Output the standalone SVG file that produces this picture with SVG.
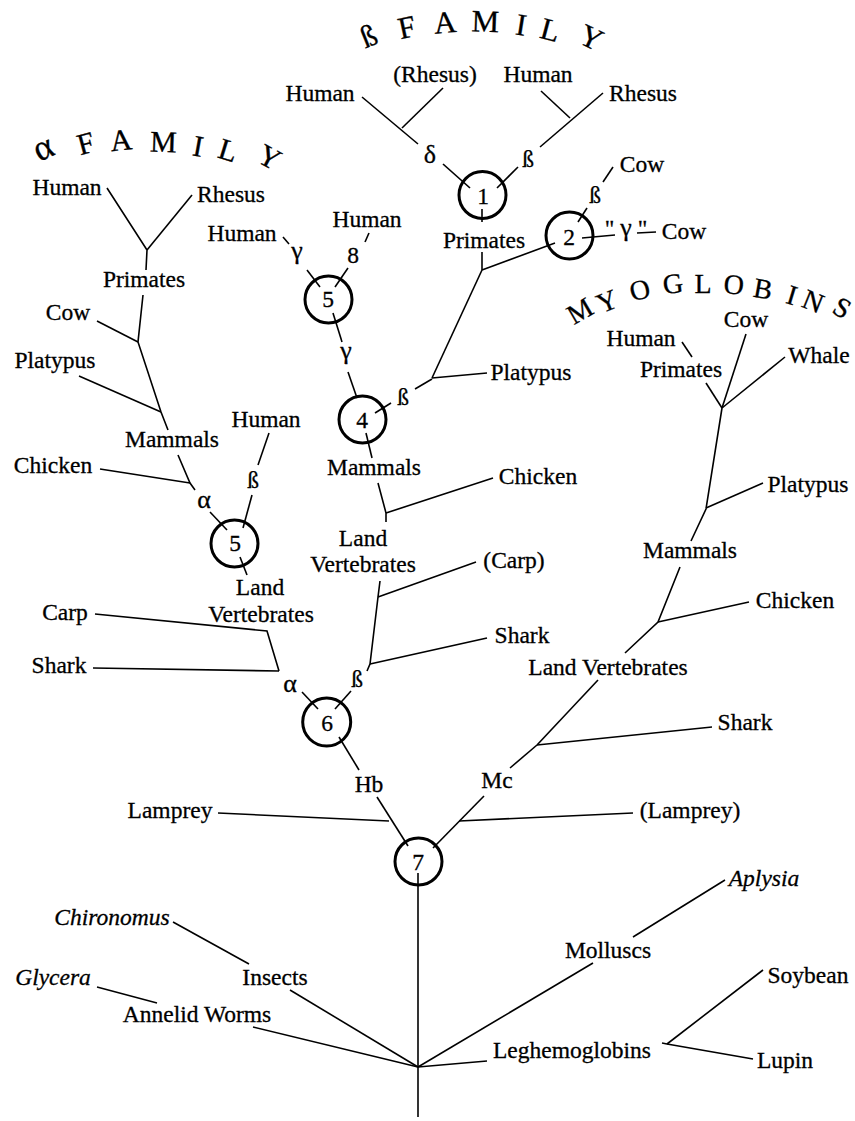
<svg xmlns="http://www.w3.org/2000/svg" width="855" height="1121" viewBox="0 0 855 1121">
  <style>
    text { font-family: "Liberation Serif", "Times New Roman", serif; font-size: 23.5px; fill: #000; stroke: #000; stroke-width: 0.3; text-anchor: middle; }
    .it { font-style: italic; }
    .title { font-size: 31px; }
    .title-a { font-size: 30px; }
    .title2 { font-size: 28px; }
    .gk { font-size: 26px; }
    .br { fill: none; stroke: #000; stroke-width: 1.6; stroke-linecap: butt; stroke-linejoin: miter; }
    .dup { fill: none; stroke: #000; stroke-width: 3; }
  </style>
  <rect width="855" height="1121" fill="#fff"/>

  <!-- group headings set along arcs -->
  <g id="title-beta">
    <text class="title" transform="translate(372.5,45.5) rotate(-22)">ß</text>
    <text class="title" transform="translate(409,37.5) rotate(-12)">F</text>
    <text class="title" transform="translate(446,32.7) rotate(-5)">A</text>
    <text class="title" transform="translate(485,31.7) rotate(2)">M</text>
    <text class="title" transform="translate(519.5,35) rotate(9)">I</text>
    <text class="title" transform="translate(547.6,40) rotate(15)">L</text>
    <text class="title" transform="translate(587,47) rotate(25)">Y</text>
  </g>
  <g id="title-alpha">
    <text class="title-a" style="font-size:36px" transform="translate(47.7,158) rotate(-25)">α</text>
    <text class="title-a" transform="translate(88.4,153) rotate(-15)">F</text>
    <text class="title-a" transform="translate(122,150) rotate(-6)">A</text>
    <text class="title-a" transform="translate(163,152) rotate(2)">M</text>
    <text class="title-a" transform="translate(196.4,156) rotate(10)">I</text>
    <text class="title-a" transform="translate(225.3,160) rotate(17)">L</text>
    <text class="title-a" transform="translate(264.7,166) rotate(28)">Y</text>
  </g>
  <g id="title-myo">
    <text class="title2" transform="translate(584.5,319) rotate(-30)">M</text>
    <text class="title2" transform="translate(610.5,310) rotate(-22)">Y</text>
    <text class="title2" transform="translate(642,299) rotate(-14)">O</text>
    <text class="title2" transform="translate(674,293) rotate(-7)">G</text>
    <text class="title2" transform="translate(703,293) rotate(0)">L</text>
    <text class="title2" transform="translate(733,294) rotate(5)">O</text>
    <text class="title2" transform="translate(761.4,298) rotate(10)">B</text>
    <text class="title2" transform="translate(789.3,304) rotate(17)">I</text>
    <text class="title2" transform="translate(809.6,310) rotate(22)">N</text>
    <text class="title2" transform="translate(837.5,316) rotate(30)">S</text>
  </g>

  <!-- branches -->
  <g id="connectors" class="br">
    <!-- beta family -->
    <path d="M362,97 L418,144"/>
    <path d="M402,128 L443,88"/>
    <path d="M443,164 L470,188"/>
    <path d="M497,188 L518,167"/>
    <path d="M540,147 L603,93"/>
    <path d="M570,118 L541,91"/>
    <path d="M482,209 L482,222"/>
    <path d="M482,252 L482,270"/>
    <path d="M482,270 L555,243"/>
    <path d="M482,270 L432,378"/>
    <path d="M432,378 L487,373"/>
    <path d="M578,222 L587,208"/>
    <path d="M603,182 L613,167"/>
    <path d="M582,238 L615,235"/>
    <path d="M637,233 L656,232"/>
    <path d="M432,379 L415,389"/>
    <path d="M391,403 L375,413"/>
    <path d="M283,237 L289,244"/>
    <path d="M307,270 L320,287"/>
    <path d="M369,233 L365,242"/>
    <path d="M348,268 L335,287"/>
    <path d="M333,313 L342,342"/>
    <path d="M348,372 L357,398"/>
    <path d="M366,433 L372,458"/>
    <path d="M378,483 L386,513 L386,522"/>
    <path d="M386,513 L493,478"/>
    <path d="M380,581 L378,597 L370,664 L367,671"/>
    <path d="M378,597 L476,562"/>
    <path d="M370,664 L487,638"/>
    <path d="M351,691 L335,709"/>
    <!-- alpha family -->
    <path d="M107,188 L147,250 L146,270"/>
    <path d="M192,195 L147,250"/>
    <path d="M143,295 L138,342 L161,412 L168,430"/>
    <path d="M97,321 L138,342"/>
    <path d="M79,376 L161,412"/>
    <path d="M178,455 L190,483 L195,490"/>
    <path d="M100,469 L190,483"/>
    <path d="M210,512 L227,530"/>
    <path d="M243,528 L252,495"/>
    <path d="M258,465 L269,433"/>
    <path d="M240,557 L247,575"/>
    <path d="M95,614 L267,631 L279,671"/>
    <path d="M93,668 L279,671"/>
    <path d="M302,692 L318,709"/>
    <!-- hemoglobin / myoglobin split -->
    <path d="M339,737 L359,770"/>
    <path d="M377,797 L408,846"/>
    <path d="M218,813 L389,821"/>
    <path d="M433,848 L484,796"/>
    <path d="M459,821 L633,813"/>
    <path d="M510,768 L537,745"/>
    <!-- myoglobins -->
    <path d="M537,745 L712,727"/>
    <path d="M537,745 L598,680"/>
    <path d="M625,653 L658,622 L680,567"/>
    <path d="M658,622 L749,602"/>
    <path d="M691,541 L706,509 L722,408"/>
    <path d="M706,508 L763,483"/>
    <path d="M706,383 L722,408"/>
    <path d="M682,342 L692,357"/>
    <path d="M746,334 L722,408"/>
    <path d="M785,357 L722,408"/>
    <!-- root and invertebrate / plant globins -->
    <path d="M418,873 L418,1117"/>
    <path d="M173,922 L249,964"/>
    <path d="M290,990 L418,1067"/>
    <path d="M97,987 L157,1003"/>
    <path d="M253,1027 L418,1067"/>
    <path d="M593,963 L418,1067"/>
    <path d="M725,880 L633,937"/>
    <path d="M418,1067 L487,1061"/>
    <path d="M763,970 L667,1044"/>
    <path d="M662,1043 L667,1044 L753,1059"/>
  </g>

  <!-- gene duplication nodes -->
  <g id="dup-1"><circle class="dup" cx="482.5" cy="195" r="23.5"/><text x="483" y="204">1</text></g>
  <g id="dup-2"><circle class="dup" cx="569.5" cy="235.5" r="23.5"/><text x="569" y="245">2</text></g>
  <g id="dup-5-beta"><circle class="dup" cx="328.5" cy="299.5" r="23.5"/><text x="328" y="307">5</text></g>
  <g id="dup-4"><circle class="dup" cx="362.5" cy="419.5" r="23.5"/><text x="362" y="428">4</text></g>
  <g id="dup-5-alpha"><circle class="dup" cx="234.5" cy="543.5" r="23.5"/><text x="235" y="551">5</text></g>
  <g id="dup-6"><circle class="dup" cx="326.7" cy="722" r="24"/><text x="327" y="731">6</text></g>
  <g id="dup-7"><circle class="dup" cx="418.5" cy="861.5" r="23.5"/><text x="418" y="870">7</text></g>

  <!-- beta family labels -->
  <g id="b-human-delta"><text x="320" y="101">Human</text></g>
  <g id="b-rhesus-delta"><text x="435" y="82">(Rhesus)</text></g>
  <g id="b-human-beta"><text x="538" y="82">Human</text></g>
  <g id="b-rhesus-beta"><text x="643" y="101">Rhesus</text></g>
  <g id="b-delta"><text class="gk" x="430" y="163">δ</text></g>
  <g id="b-beta1"><text x="528" y="167">ß</text></g>
  <g id="b-primates"><text x="484" y="248">Primates</text></g>
  <g id="b-beta2"><text x="595" y="203">ß</text></g>
  <g id="b-cow-beta"><text x="642" y="172">Cow</text></g>
  <g id="b-gamma2"><text x="626" y="236">" <tspan class="gk">γ</tspan> "</text></g>
  <g id="b-cow-gamma"><text x="684" y="239">Cow</text></g>
  <g id="b-human-gamma"><text x="242" y="241">Human</text></g>
  <g id="b-gamma5"><text class="gk" x="297" y="259">γ</text></g>
  <g id="b-human-8"><text x="367" y="227">Human</text></g>
  <g id="b-eight"><text x="353" y="263">8</text></g>
  <g id="b-gamma4"><text class="gk" x="346" y="359">γ</text></g>
  <g id="b-beta4"><text x="403" y="405">ß</text></g>
  <g id="b-platypus"><text x="531" y="380">Platypus</text></g>
  <g id="b-mammals"><text x="374" y="475">Mammals</text></g>
  <g id="b-chicken"><text x="538" y="484">Chicken</text></g>
  <g id="b-landvert"><text x="363" y="546">Land</text><text x="363" y="572">Vertebrates</text></g>
  <g id="b-carp"><text x="514" y="568">(Carp)</text></g>
  <g id="b-shark"><text x="522" y="643">Shark</text></g>
  <g id="b-beta6"><text x="357" y="687">ß</text></g>

  <!-- alpha family labels -->
  <g id="a-human"><text x="67" y="195">Human</text></g>
  <g id="a-rhesus"><text x="231" y="202">Rhesus</text></g>
  <g id="a-primates"><text x="144" y="287">Primates</text></g>
  <g id="a-cow"><text x="68" y="320">Cow</text></g>
  <g id="a-platypus"><text x="55" y="368">Platypus</text></g>
  <g id="a-mammals"><text x="172" y="447">Mammals</text></g>
  <g id="a-human-beta"><text x="266" y="427">Human</text></g>
  <g id="a-chicken"><text x="53" y="473">Chicken</text></g>
  <g id="a-alpha5"><text class="gk" x="204" y="508">α</text></g>
  <g id="a-beta5"><text x="253" y="488">ß</text></g>
  <g id="a-landvert"><text x="260" y="595">Land</text><text x="261" y="622">Vertebrates</text></g>
  <g id="a-carp"><text x="65" y="620">Carp</text></g>
  <g id="a-shark"><text x="59" y="673">Shark</text></g>
  <g id="a-alpha6"><text class="gk" x="290" y="692">α</text></g>

  <!-- hemoglobin / myoglobin split labels -->
  <g id="hb"><text x="369" y="792">Hb</text></g>
  <g id="mc"><text x="497" y="788">Mc</text></g>
  <g id="lamprey"><text x="170" y="818">Lamprey</text></g>
  <g id="lamprey-mc"><text x="690" y="818">(Lamprey)</text></g>

  <!-- myoglobin labels -->
  <g id="m-human"><text x="641" y="346">Human</text></g>
  <g id="m-primates"><text x="681" y="377">Primates</text></g>
  <g id="m-cow"><text x="746" y="327">Cow</text></g>
  <g id="m-whale"><text x="819" y="363">Whale</text></g>
  <g id="m-platypus"><text x="808" y="492">Platypus</text></g>
  <g id="m-mammals"><text x="690" y="558">Mammals</text></g>
  <g id="m-chicken"><text x="795" y="608">Chicken</text></g>
  <g id="m-landvert"><text x="608" y="675">Land Vertebrates</text></g>
  <g id="m-shark"><text x="745" y="730">Shark</text></g>

  <!-- invertebrate and plant globins -->
  <g id="chironomus"><text class="it" x="112" y="925">Chironomus</text></g>
  <g id="insects"><text x="275" y="985">Insects</text></g>
  <g id="glycera"><text class="it" x="53" y="985">Glycera</text></g>
  <g id="annelids"><text x="197" y="1022">Annelid Worms</text></g>
  <g id="molluscs"><text x="608" y="958">Molluscs</text></g>
  <g id="aplysia"><text class="it" x="764" y="886">Aplysia</text></g>
  <g id="soybean"><text x="808" y="983">Soybean</text></g>
  <g id="lupin"><text x="785" y="1068">Lupin</text></g>
  <g id="leghemoglobins"><text x="572" y="1058">Leghemoglobins</text></g>
</svg>
